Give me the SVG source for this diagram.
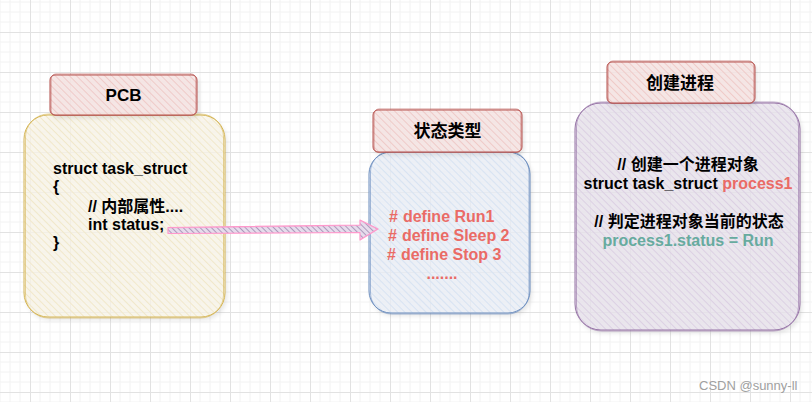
<svg xmlns="http://www.w3.org/2000/svg" width="812" height="402" viewBox="0 0 812 402">
<defs>
  <pattern id="grid" x="30" y="32" width="40" height="40" patternUnits="userSpaceOnUse">
    <path d="M10 0V40M20 0V40M30 0V40M0 10H40M0 20H40M0 30H40" stroke="#f2f2f2" stroke-width="1" fill="none"/>
    <path d="M0.5 0V40M0 0.5H40" stroke="#e2e2e2" stroke-width="1" fill="none"/>
  </pattern>
  <pattern id="hY" width="5" height="5" patternUnits="userSpaceOnUse" patternTransform="rotate(-45)">
    <rect width="5" height="5" fill="#f9f5e8" fill-opacity="0.75"/>
    <line x1="0" y1="0" x2="0" y2="5" stroke="#f1e8cb" stroke-width="2"/>
  </pattern>
  <pattern id="hR" width="5" height="5" patternUnits="userSpaceOnUse" patternTransform="rotate(-45)">
    <rect width="5" height="5" fill="#f6e4e3" fill-opacity="0.85"/>
    <line x1="0" y1="0" x2="0" y2="5" stroke="#efcac8" stroke-width="2"/>
  </pattern>
  <pattern id="hB" width="5" height="5" patternUnits="userSpaceOnUse" patternTransform="rotate(-45)">
    <rect width="5" height="5" fill="#eaeff6" fill-opacity="0.75"/>
    <line x1="0" y1="0" x2="0" y2="5" stroke="#d8e3f2" stroke-width="2"/>
  </pattern>
  <pattern id="hP" width="5" height="5" patternUnits="userSpaceOnUse" patternTransform="rotate(-45)">
    <rect width="5" height="5" fill="#e9e4ec" fill-opacity="0.8"/>
    <line x1="0" y1="0" x2="0" y2="5" stroke="#dcd0e3" stroke-width="2"/>
  </pattern>
  <pattern id="hA" width="4" height="4" patternUnits="userSpaceOnUse" patternTransform="rotate(-45)">
    <rect width="4" height="4" fill="#e6dcec"/>
    <line x1="0" y1="0" x2="0" y2="4" stroke="#9f88b0" stroke-width="1.6"/>
  </pattern>
  <filter id="sh" x="-10%" y="-10%" width="130%" height="130%">
    <feDropShadow dx="2" dy="3" stdDeviation="2" flood-color="#000" flood-opacity="0.12"/>
  </filter>
</defs>
<style>
  .t { font-family: "Liberation Sans", Arial, "Noto Sans CJK SC", sans-serif; font-weight: bold; font-size: 16px; fill: #000; }
  .h { font-size: 17px; }
  .red { fill: #ea6b66; }
  .grn { fill: #67ab9f; }
  .sk { fill: none; stroke-width: 1; }
  .sk2 { fill: none; stroke-width: 1; stroke-opacity: 0.6; }
  .wm { font-family: "Liberation Sans", Arial, sans-serif; font-size: 13px; fill: #a0a0a0; }
</style>
<rect width="812" height="402" fill="#ffffff"/>
<rect width="812" height="402" fill="url(#grid)"/>

<g id="pcb-body">
  <rect x="24" y="115" width="201" height="202" rx="24" fill="url(#hY)" filter="url(#sh)"/>
  <rect x="24" y="115" width="201" height="202" rx="24" class="sk" stroke="#d6b656"/>
  <rect x="25.5" y="114" width="198" height="204" rx="23" class="sk2" stroke="#d6b656"/>
  <text class="t" x="53" y="174">struct task_struct</text>
  <text class="t" x="53" y="192">{</text>
  <text class="t" x="88" y="212">// 内部属性....</text>
  <text class="t" x="88" y="230">int status;</text>
  <text class="t" x="53" y="248">}</text>
</g>
<g id="pcb-header">
  <rect x="50" y="75" width="147" height="40" rx="5" fill="url(#hR)" filter="url(#sh)"/>
  <rect x="50" y="75" width="147" height="40" rx="5" class="sk" stroke="#b85450"/>
  <rect x="51" y="74" width="145" height="41.5" rx="5" class="sk2" stroke="#b85450"/>
  <text class="t h" x="123.5" y="101" text-anchor="middle">PCB</text>
</g>

<g id="state-body">
  <rect x="369" y="152" width="161" height="161" rx="22" fill="url(#hB)" filter="url(#sh)"/>
  <rect x="369" y="152" width="161" height="161" rx="22" class="sk" stroke="#6c8ebf"/>
  <rect x="370.5" y="151" width="158.5" height="163" rx="21" class="sk2" stroke="#6c8ebf"/>
  <text class="t red" x="389" y="222">#<tspan dx="5">define Run1</tspan></text>
  <text class="t red" x="388" y="241">#<tspan dx="5">define Sleep 2</tspan></text>
  <text class="t red" x="387" y="260">#<tspan dx="5">define Stop 3</tspan></text>
  <text class="t red" x="442" y="279" text-anchor="middle">.......</text>
</g>
<g id="state-header">
  <rect x="373" y="110" width="149" height="42" rx="5" fill="url(#hR)" filter="url(#sh)"/>
  <rect x="373" y="110" width="149" height="42" rx="5" class="sk" stroke="#b85450"/>
  <rect x="374" y="109" width="147" height="43.5" rx="5" class="sk2" stroke="#b85450"/>
  <text class="t h" x="447.5" y="137" text-anchor="middle">状态类型</text>
</g>

<g id="create-body">
  <rect x="575" y="103" width="225" height="227" rx="26" fill="url(#hP)" filter="url(#sh)"/>
  <rect x="575" y="103" width="225" height="227" rx="26" class="sk" stroke="#9673a6"/>
  <rect x="576.5" y="102" width="222" height="229" rx="25" class="sk2" stroke="#9673a6"/>
  <text class="t" x="688" y="170" text-anchor="middle">// 创建一个进程对象</text>
  <text class="t" x="688" y="189" text-anchor="middle">struct task_struct <tspan class="red">process1</tspan></text>
  <text class="t" x="689" y="227" text-anchor="middle">// 判定进程对象当前的状态</text>
  <text class="t grn" x="688" y="246" text-anchor="middle">process1.status = Run</text>
</g>
<g id="create-header">
  <rect x="607" y="62" width="148" height="41" rx="5" fill="url(#hR)" filter="url(#sh)"/>
  <rect x="607" y="62" width="148" height="41" rx="5" class="sk" stroke="#b85450"/>
  <rect x="608" y="61" width="146" height="42.5" rx="5" class="sk2" stroke="#b85450"/>
  <text class="t h" x="680" y="89" text-anchor="middle">创建进程</text>
</g>

<g id="connectors">
  <path d="M168 227.5 L360 225 L360 220 L378 229 L360 240 L360 232.5 L168 233.5 Z" fill="url(#hA)" stroke="#ff99cc" stroke-width="1.2" stroke-linejoin="round"/>
  <path d="M169 228 L361 225.5 M361 221 L377 229 L361 239" fill="none" stroke="#ff99cc" stroke-width="0.8" stroke-opacity="0.6"/>
</g>

<text class="wm" x="699" y="390">CSDN @sunny-ll</text>
</svg>
